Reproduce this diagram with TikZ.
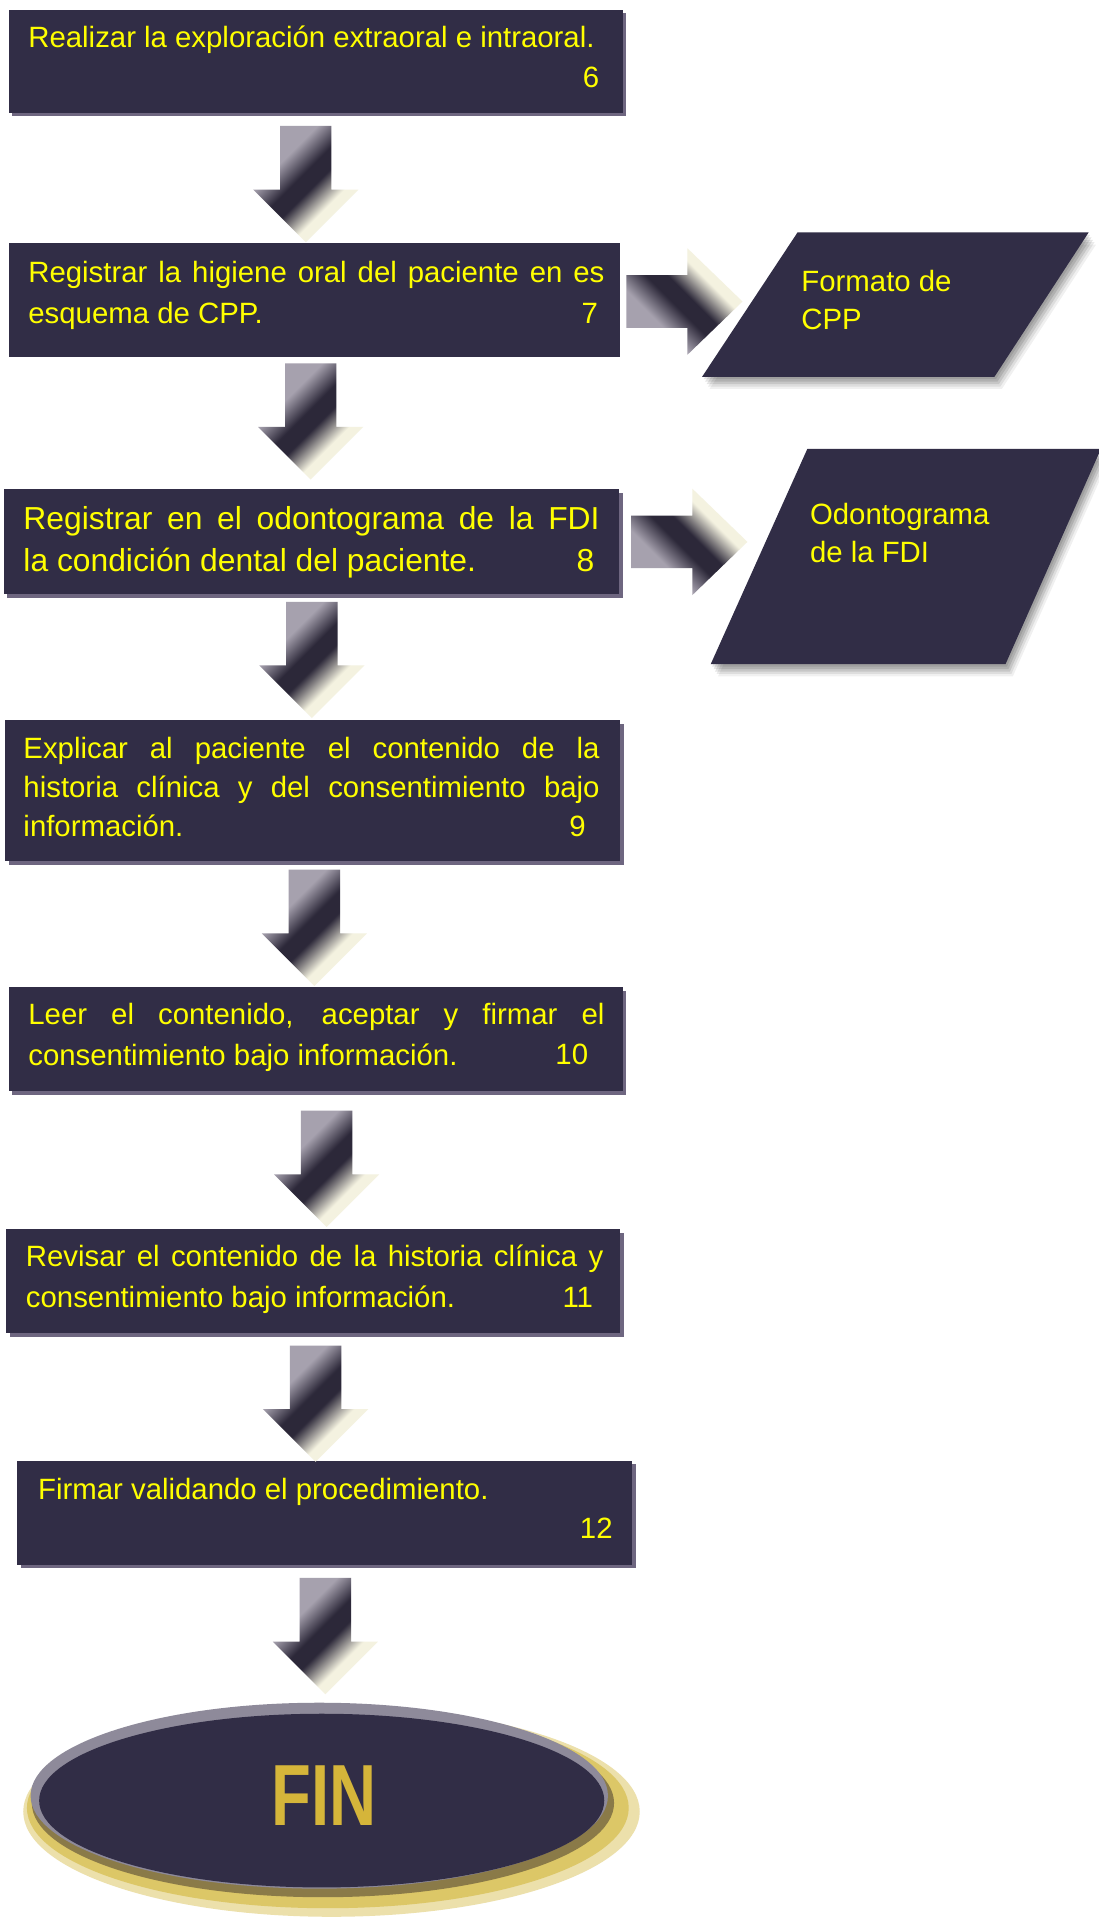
\documentclass[tikz,border=0pt]{standalone}
\usepackage{fontspec}
\setmainfont{Liberation Sans}
\usetikzlibrary{shadows}
\definecolor{boxc}{HTML}{312D46}
\definecolor{shadc}{HTML}{6E6680}
\definecolor{txtc}{HTML}{FFFF00}
\definecolor{arrlight}{HTML}{A6A1AE}
\definecolor{arrdark}{HTML}{2C2839}
\definecolor{arrcream}{HTML}{F4F2E0}
\definecolor{goldc}{HTML}{D5B53A}
\definecolor{glowc}{HTML}{DCC767}
\definecolor{olivec}{HTML}{8A7A48}
\definecolor{rimc}{HTML}{8E8A9A}
\pgfdeclarehorizontalshading{arrowshade}{100bp}{color(0bp)=(arrlight); color(35bp)=(arrlight); color(46bp)=(arrdark); color(53bp)=(arrdark); color(64bp)=(arrcream); color(100bp)=(arrcream)}
\begin{document}
\begin{tikzpicture}[x=1pt,y=-1pt,
  stepbox/.style={fill=boxc, draw=none, inner sep=0pt, outer sep=0pt, anchor=north west,
    drop shadow={shadow xshift=3pt, shadow yshift=-3pt, opacity=1, fill=shadc}},
  plainbox/.style={fill=boxc, draw=none, inner sep=0pt, outer sep=0pt, anchor=north west},
  steptext/.style={text=txtc, inner sep=0pt, anchor=north west, align=justify},
  linetext/.style={text=txtc, inner sep=0pt, anchor=base west, font=\fontsize{24}{34}\selectfont},
  numtext/.style={text=txtc, inner sep=0pt, anchor=base east, font=\fontsize{24}{34}\selectfont},
  darrow/.pic={\shade[shading=arrowshade, shading angle=-45]
     (-21,0) -- (21,0) -- (21,52) -- (43,52) -- (0,95) -- (-43,52) -- (-21,52) -- cycle;},
  rarrow/.pic={\shade[shading=arrowshade, shading angle=45]
     (0,-21.5) -- (50,-21.5) -- (50,-43.5) -- (95,0) -- (50,43.5) -- (50,21.5) -- (0,21.5) -- cycle;},
]
\fill[white] (0,0) rectangle (898,1568);
\useasboundingbox (0,0) rectangle (898,1568);

% ---------- boxes ----------
\node[stepbox, minimum width=502pt, minimum height=84pt] (b1) at (7,8) {};
\node[plainbox, minimum width=500pt, minimum height=93pt] (b2) at (7,199) {};
\node[stepbox, minimum width=503pt, minimum height=86pt] (b3) at (3,400) {};
\node[stepbox, minimum width=503pt, minimum height=115pt] (b4) at (4,589) {};
\node[stepbox, minimum width=502pt, minimum height=85pt] (b5) at (7,807) {};
\node[stepbox, minimum width=502pt, minimum height=85pt] (b6) at (5,1005) {};
\node[stepbox, minimum width=503pt, minimum height=85pt] (b7) at (14,1194) {};

% ---------- texts ----------
\node[linetext] (t1) at (23,38.5) {Realizar la exploración extraoral e intraoral.};
\node[numtext] (n1) at (490,71.5) {6};

\node[steptext, text width=471pt, font=\fontsize{24}{34}\selectfont] (t2) at (23,206.7)
  {\strut Registrar la higiene oral del paciente en es\linebreak esquema de CPP.};
\node[numtext] (n2) at (489,264.5) {7};

\node[steptext, text width=471pt, font=\fontsize{26}{34}\selectfont] (t3) at (19,409.2)
  {\strut Registrar en el odontograma de la FDI\linebreak la condición dental del paciente.};
\node[numtext, font=\fontsize{26}{34}\selectfont] (n3) at (486,467) {8};

\node[steptext, text width=471pt, font=\fontsize{24}{32}\selectfont] (t4) at (19,597.1)
  {\strut Explicar al paciente el contenido de la\linebreak historia clínica y del consentimiento bajo\linebreak información.};
\node[numtext] (n4) at (479,683.5) {9};

\node[steptext, text width=471pt, font=\fontsize{24}{33}\selectfont] (t5) at (23,814.4)
  {\strut Leer el contenido, aceptar y firmar el\linebreak consentimiento bajo información.};
\node[numtext] (n5) at (481,870.5) {10};

\node[steptext, text width=472pt, font=\fontsize{24}{33}\selectfont] (t6) at (21,1012.4)
  {\strut Revisar el contenido de la historia clínica y\linebreak consentimiento bajo información.};
\node[numtext] (n6) at (485,1068.5) {11};

\node[linetext] (t7) at (31,1225.5) {Firmar validando el procedimiento.};
\node[numtext] (n7) at (501,1257.5) {12};

% ---------- parallelograms ----------
\foreach \s/\o in {2/0.10,4/0.10,6/0.10,8/0.08,10/0.06}{
  \fill[black, opacity=\o] ([shift={(\s*0.6,\s)}]652,190) -- ([shift={(\s*0.6,\s)}]890,190) -- ([shift={(\s*0.6,\s)}]813,308) -- ([shift={(\s*0.6,\s)}]574,308) -- cycle;
  \fill[black, opacity=\o] ([shift={(\s*0.6,\s)}]660,367) -- ([shift={(\s*0.6,\s)}]900,367) -- ([shift={(\s*0.6,\s)}]822,543) -- ([shift={(\s*0.6,\s)}]581,543) -- cycle;
}
\fill[boxc] (652,190) -- (890,190) -- (813,308) -- (574,308) -- cycle;
\fill[boxc] (660,367) -- (900,367) -- (822,543) -- (581,543) -- cycle;
\node[steptext, align=left, font=\fontsize{24}{31}\selectfont] (p1) at (655,216.8) {\strut Formato de\\CPP};
\node[steptext, align=left, font=\fontsize{24}{31}\selectfont] (p2) at (662,406.8) {\strut Odontograma\\de la FDI};

% ---------- connectors ----------
\coordinate (a1) at (250,103);
\coordinate (a2) at (254,297);
\coordinate (a3) at (255,492);
\coordinate (a4) at (257,711);
\coordinate (a5) at (267,908);
\coordinate (a6) at (258,1100);
\coordinate (a7) at (266,1290);
\foreach \c in {a1,a2,a3,a4,a5,a6,a7}{ \pic at (\c) {darrow}; }
\coordinate (r1) at (512,246.5);
\coordinate (r2) at (516,443);
\pic at (r1) {rarrow};
\pic at (r2) {rarrow};

% ---------- FIN ----------
\fill[glowc!55] (271,1481) ellipse [x radius=252, y radius=86];
\fill[glowc] (268,1478) ellipse [x radius=246, y radius=82];
\fill[olivec] (264,1474) ellipse [x radius=238, y radius=77];
\fill[rimc] (261,1468) ellipse [x radius=236, y radius=76];
\fill[boxc] (263,1472) ellipse [x radius=231, y radius=71];
\node[text=goldc, inner sep=0pt, font=\bfseries\fontsize{71}{71}\selectfont] (fin) at (265,1468) {\scalebox{0.75}[1]{FIN}};
\end{tikzpicture}
\end{document}
